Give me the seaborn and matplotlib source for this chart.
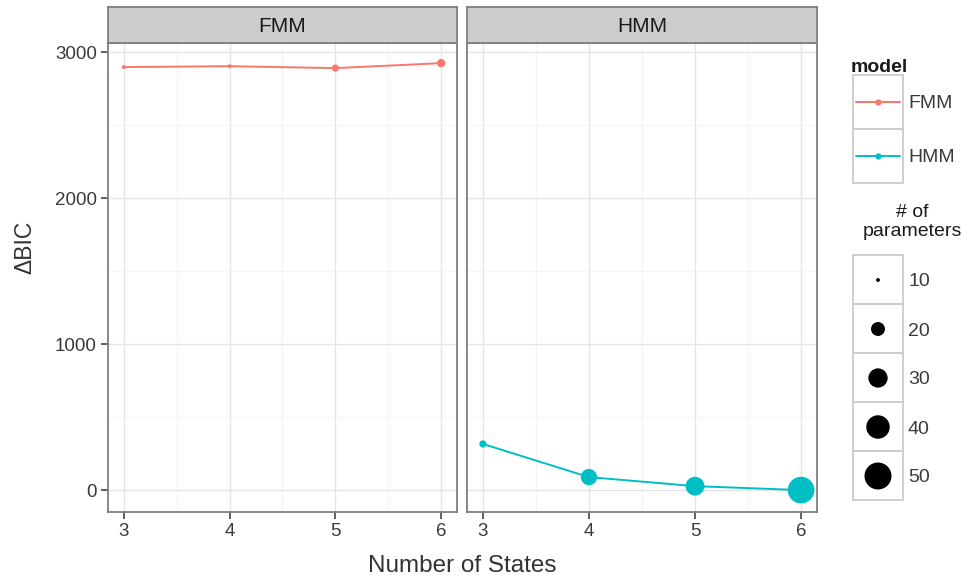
import pandas as pd
import matplotlib.pyplot as plt
import seaborn as sns
from matplotlib.patches import Rectangle
from matplotlib.ticker import MultipleLocator

# --- data ---
states = [3, 4, 5, 6]
fmm_bic = [2897, 2903, 2890, 2924]
hmm_bic = [316, 89, 27, 0]
fmm_params = [10, 10, 12, 13]
hmm_params = [12, 24, 29, 49]
models = ["FMM", "HMM"]
legend_params = [10, 20, 30, 40, 50]
colors = {"FMM": "#F8766D", "HMM": "#00BFC4"}

df = pd.DataFrame({
    "states": states * 2,
    "bic": fmm_bic + hmm_bic,
    "params": fmm_params + hmm_params,
    "model": ["FMM"] * 4 + ["HMM"] * 4,
})

sns.set_theme(style="white")
plt.rcParams['font.family'] = ['Liberation Sans', 'DejaVu Sans']

W, H = 973, 580
fig = plt.figure(figsize=(W / 100, H / 100), dpi=100)


def box(x0, y0, x1, y1):
    # pixel box -> figure fraction
    return [x0 / W, 1 - y1 / H, (x1 - x0) / W, (y1 - y0) / H]


size_kw = dict(sizes=(8, 378), size_norm=(10, 50))
txt = "#3A3A3A"
border = "#7F7F7F"

panels = [(108, 457), (467, 817)]
for i, (m, (x0, x1)) in enumerate(zip(models, panels)):
    ax = fig.add_axes(box(x0, 43, x1, 512))
    sub = df[df.model == m]
    sns.lineplot(data=sub, x="states", y="bic", color=colors[m], lw=1.4,
                 ax=ax, legend=False)
    sns.scatterplot(data=sub, x="states", y="bic", size="params",
                    color=colors[m], edgecolor="none", ax=ax, legend=False,
                    zorder=3, **size_kw)
    ax.set_xlim(2.85, 6.15)
    ax.set_ylim(-150, 3062)
    ax.xaxis.set_major_locator(MultipleLocator(1))
    ax.xaxis.set_minor_locator(MultipleLocator(0.5))
    ax.yaxis.set_major_locator(MultipleLocator(1000))
    ax.yaxis.set_minor_locator(MultipleLocator(500))
    ax.grid(which="major", color="#E5E5E5", lw=1.0)
    ax.grid(which="minor", color="#F4F4F4", lw=0.9)
    ax.set_axisbelow(True)
    for s in ax.spines.values():
        s.set_color(border)
        s.set_linewidth(1.3)
    ax.tick_params(axis="both", which="major", direction="out", length=5,
                   width=1.1, color="#333333", labelsize=13.5, labelcolor=txt,
                   bottom=True, left=(i == 0), pad=3)
    ax.tick_params(which="minor", length=0)
    if i > 0:
        ax.set_yticklabels([])
    ax.set_xlabel("")
    ax.set_ylabel("")

    # facet strip
    sax = fig.add_axes(box(x0, 7, x1, 43))
    sax.set_facecolor("#CCCCCC")
    sax.set_xticks([])
    sax.set_yticks([])
    for s in sax.spines.values():
        s.set_color(border)
        s.set_linewidth(1.3)
    sax.text(0.5, 0.47, m, ha="center", va="center", fontsize=15,
             color="#1A1A1A", transform=sax.transAxes)

fig.text(462 / W, 1 - 566 / H, "Number of States", ha="center", va="center",
         fontsize=17.5, color="#333333")
fig.text(25 / W, 1 - 247 / H, "ΔBIC", ha="center", va="center",
         rotation=90, fontsize=16.5, color="#333333")

# --- legends drawn in pixel space ---
lax = fig.add_axes([0, 0, 1, 1], facecolor="none")

lax.text(851, 68, "model", fontsize=14, fontweight="bold", color="#1A1A1A",
         va="center")
for j, m in enumerate(models):
    y0 = 75 + j * 54
    lax.add_patch(Rectangle((853, y0), 50, 54, fill=False, ec="#CCCCCC", lw=1.3))
    yc = y0 + 27
    lax.plot([856, 900], [yc, yc], color=colors[m], lw=1.4)
    lax.plot([878], [yc], "o", color=colors[m], ms=4.5, mec="none")
    lax.text(908, yc + 1, m, fontsize=14, color=txt, va="center")

lax.text(912, 222, "# of\nparameters", fontsize=14, color="#1A1A1A",
         ha="center", va="center", linespacing=1.15)
key_y = [255 + k * 49 for k in range(len(legend_params))]
for k, y0 in enumerate(key_y):
    lax.add_patch(Rectangle((853, y0), 50, 49, fill=False, ec="#CCCCCC", lw=1.3))
    lax.text(908, y0 + 27, str(legend_params[k]), fontsize=14, color=txt,
             va="center")
leg_df = pd.DataFrame({"x": [878] * len(legend_params),
                       "y": [y + 25 for y in key_y],
                       "params": legend_params})
sns.scatterplot(data=leg_df, x="x", y="y", size="params", color="black",
                edgecolor="none", ax=lax, legend=False, **size_kw)
lax.set_xlim(0, W)
lax.set_ylim(H, 0)
lax.axis("off")

fig.savefig("out.png", dpi=100)
